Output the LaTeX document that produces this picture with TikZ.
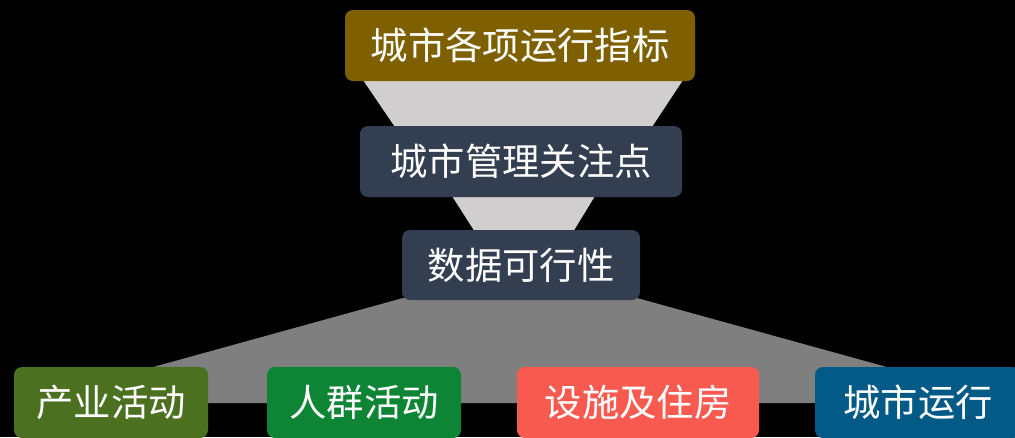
\documentclass[tikz,border=0pt]{standalone}
\usepackage{fontspec}
\setmainfont{Noto Sans CJK SC}
\definecolor{bgblack}{HTML}{000000}
\definecolor{olivetop}{HTML}{7F6000}
\definecolor{slatebox}{HTML}{333F50}
\definecolor{lightfun}{HTML}{D0CECE}
\definecolor{darkfun}{HTML}{7F7F7F}
\definecolor{cgreenA}{HTML}{4A7020}
\definecolor{cgreenB}{HTML}{0E8535}
\definecolor{cred}{HTML}{F85A50}
\definecolor{cblue}{HTML}{045A86}
\begin{document}
\begin{tikzpicture}[x=0.75pt,y=-0.75pt,
  box/.style={rounded corners=6pt, text=white, inner sep=0pt,
    font=\fontsize{28}{30}\selectfont, minimum height=53.25pt},
]
\useasboundingbox (0,0) rectangle (1015,437);
\fill[bgblack] (0,0) rectangle (1015,437);
\clip (0,0) rectangle (1015,437);
% funnel shapes
\fill[lightfun] (363,80) -- (683,80) -- (650,130) -- (397,130) -- cycle;
\fill[lightfun] (452,196) -- (595,196) -- (573,232) -- (475,232) -- cycle;
\fill[darkfun] (403,298) -- (637,298) -- (1017,403) -- (23,403) -- cycle;
% boxes
\node[box, fill=olivetop, minimum width=262.5pt] (top) at (520,45.5) {城市各项运行指标};
\node[box, fill=slatebox, minimum width=241.5pt] (mid) at (521,161.5) {城市管理关注点};
\node[box, fill=slatebox, minimum width=178.5pt, minimum height=52.5pt] (data) at (521,265) {数据可行性};
\node[box, fill=cgreenA, minimum width=145.5pt] (ind) at (111,402.5) {产业活动};
\node[box, fill=cgreenB, minimum width=145.5pt] (crowd) at (364,402.5) {人群活动};
\node[box, fill=cred, minimum width=181.5pt] (fac) at (638,402.5) {设施及住房};
\node[box, fill=cblue, minimum width=154.5pt] (ops) at (918,402.5) {城市运行};
\end{tikzpicture}
\end{document}
